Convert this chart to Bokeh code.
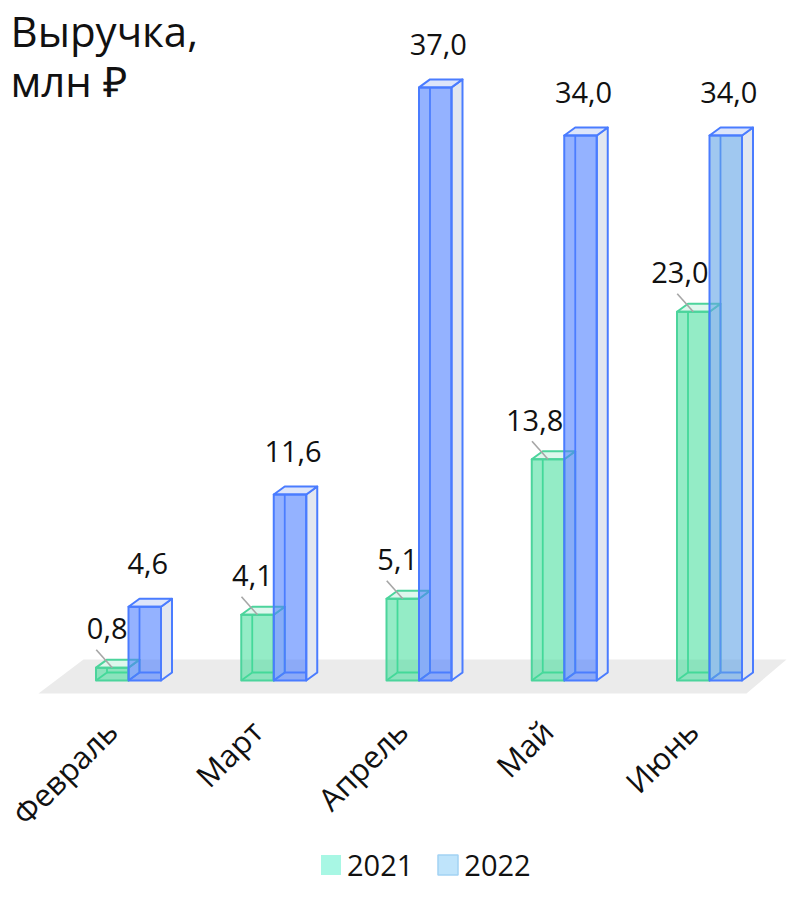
import math
from bokeh.plotting import figure
from bokeh.models import ColumnDataSource, Range1d, Legend, LegendItem, Label
from bokeh.core.properties import value
from bokeh.embed import file_html
from bokeh.resources import INLINE

# ---------------- data ----------------
months = ["Февраль", "Март", "Апрель", "Май", "Июнь"]
series = ["2021", "2022"]
v2021 = [0.8, 4.1, 5.1, 13.8, 23.0]
v2022 = [4.6, 11.6, 37.0, 34.0, 34.0]
title_lines = ["Выручка,", "млн ₽"]

# ---------------- styling / geometry ----------------
W, H = 789, 884
PXU = 145.25          # pixels per category unit
PYU = 16.03           # pixels per value unit
X0 = -128.0 / PXU
Y0 = -(H - 680) / PYU
x_range = Range1d(X0, X0 + W / PXU)
y_range = Range1d(Y0, Y0 + H / PYU)

BW = 32.5 / PXU       # bar width
DX = 11.0 / PXU       # depth x
DY = 8.0 / PYU        # depth y
FONT_NAME = "Open Sans"
FONT = value(FONT_NAME)

GREEN_LINE = "#4cd49c"
BLUE_LINE = "#4a7cff"
green_front = ["#3ddc97"] * 5
blue_front = ["#4d7fff", "#4d7fff", "#4d7fff", "#4d7fff", "#61a3e6"]

p = figure(width=W, height=H, x_range=x_range, y_range=y_range,
           output_backend="svg", toolbar_location=None,
           x_axis_location=None, y_axis_location=None, min_border=0)
p.grid.visible = False
p.outline_line_color = None
p.background_fill_color = "white"

# floor
n = len(months)
fl_b, fl_t = -13.0 / PYU, 21.0 / PYU
floor = ColumnDataSource(dict(
    x=[-90 / PXU, (n - 1) + 37 / PXU, (n - 1) + 77 / PXU, -45 / PXU],
    y=[fl_b, fl_b, fl_t, fl_t]))
p.patch("x", "y", source=floor, fill_color="#ebebeb", line_color=None)


def boxes(vals, left_off, fronts, line_color, top_fill, side_fill, front_alpha):
    xs0 = [i + left_off for i in range(len(vals))]
    xs1 = [x + BW for x in xs0]
    back = dict(xs=[], ys=[])
    for x0, x1, v in zip(xs0, xs1, vals):
        back["xs"] += [[x0 + DX, x0 + DX], [x0 + DX, x1 + DX], [x0, x0 + DX]]
        back["ys"] += [[DY, v + DY], [DY, DY], [0, DY]]
    top = dict(xs=[[x0, x1, x1 + DX, x0 + DX] for x0, x1 in zip(xs0, xs1)],
               ys=[[v, v, v + DY, v + DY] for v in vals])
    side = dict(xs=[[x1, x1 + DX, x1 + DX, x1] for x1 in xs1],
                ys=[[0, DY, v + DY, v] for v in vals])
    front = dict(left=xs0, right=xs1, bottom=[0] * len(vals), top=vals, color=fronts)
    p.multi_line("xs", "ys", source=ColumnDataSource(back), line_color=line_color,
                 line_width=1.8)
    p.patches("xs", "ys", source=ColumnDataSource(side), fill_color=side_fill,
              line_color=line_color, line_width=2, line_join="round")
    p.patches("xs", "ys", source=ColumnDataSource(top), fill_color=top_fill,
              line_color=line_color, line_width=2, line_join="round")
    p.quad(left="left", right="right", bottom="bottom", top="top",
           source=ColumnDataSource(front), fill_color="color", fill_alpha=front_alpha,
           line_color=line_color, line_width=2, line_join="round")
    return xs0, xs1


g0, g1 = boxes(v2021, -BW, green_front, GREEN_LINE, "#def7ed", "#e0f3ec", 0.55)
b0, b1 = boxes(v2022, 0.0, blue_front, BLUE_LINE, "#dde5fa", "#e2e7f0", 0.6)

fmt = lambda v: f"{v:.1f}".replace(".", ",")

# leader lines for 2021 labels
lead = ColumnDataSource(dict(
    x0=[(a + b) / 2 - 16 / PXU for a, b in zip(g0, g1)],
    y0=[v + 18 / PYU for v in v2021],
    x1=[(a + b) / 2 for a, b in zip(g0, g1)],
    y1=v2021))
p.segment("x0", "y0", "x1", "y1", source=lead, line_color="#a6a6a6", line_width=1.6)

lab21 = ColumnDataSource(dict(x=g1, y=v2021, t=[fmt(v) for v in v2021]))
p.text("x", "y", text="t", source=lab21, text_font=FONT, text_font_size="29px",
       text_align="right", text_baseline="alphabetic", x_offset=-1, y_offset=-39,
       text_color="#111111")
lab22 = ColumnDataSource(dict(x=[(a + b) / 2 for a, b in zip(b0, b1)], y=v2022,
                              t=[fmt(v) for v in v2022]))
p.text("x", "y", text="t", source=lab22, text_font=FONT, text_font_size="29px",
       text_align="center", text_baseline="alphabetic", x_offset=3, y_offset=-43,
       text_color="#111111")

# category labels
cats = ColumnDataSource(dict(x=list(range(n)), y=[0] * n, t=months))
p.text("x", "y", text="t", source=cats, text_font=FONT, text_font_size="31px",
       text_align="right", text_baseline="middle", angle=math.pi / 4,
       x_offset=-17, y_offset=45, text_color="#111111")

# title
for k, line in enumerate(title_lines):
    p.add_layout(Label(x=10, y=H - 1 - 50 * k, x_units="screen", y_units="screen",
                       text=line, text_font=FONT_NAME, text_font_size="42px",
                       text_baseline="top", text_color="#111111"))

# legend (swatch renderers carry no visible marks)
nan = float("nan")
r21 = p.quad(left=[nan], right=[nan], bottom=[nan], top=[nan],
             fill_color="#a8f7e4", line_color=None)
r22 = p.quad(left=[nan], right=[nan], bottom=[nan], top=[nan],
             fill_color="#bfe4fb", line_color="#a3d2f4", line_width=1.5)
legend = Legend(items=[LegendItem(label=series[0], renderers=[r21]),
                       LegendItem(label=series[1], renderers=[r22])],
                orientation="horizontal", location=(318, 0),
                label_text_font=FONT_NAME, label_text_font_size="29px",
                label_text_color="#111111",
                glyph_width=25, glyph_height=25, label_standoff=4, spacing=22,
                padding=0, margin=0, border_line_color=None, background_fill_alpha=0)
p.add_layout(legend)

open("out.html", "w").write(file_html(p, INLINE))
